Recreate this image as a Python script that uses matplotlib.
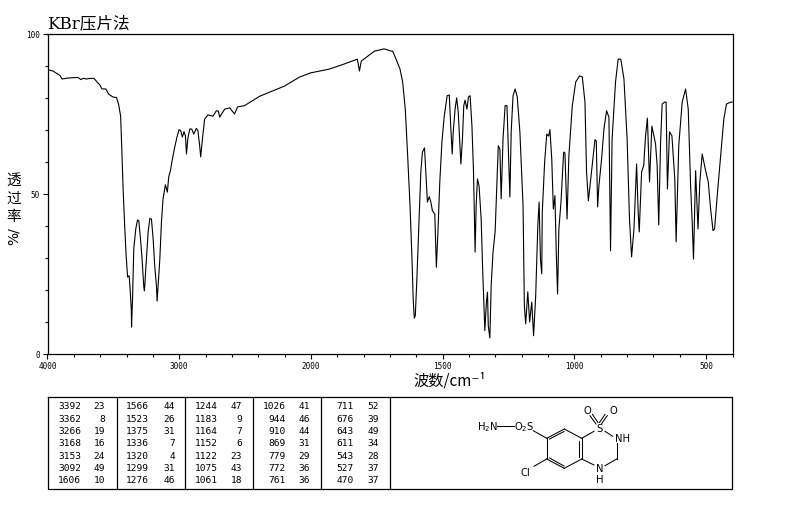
import numpy as np
import matplotlib
matplotlib.use("Agg")
import matplotlib.pyplot as plt

# --- spectrum ---
wavenumber = [
    3998, 3981, 3958, 3936, 3905, 3890, 3845, 3769, 3746, 3731, 3701, 3678, 3648, 3602, 3587, 3557,
    3536, 3504, 3476, 3461, 3445, 3436, 3426, 3413, 3403, 3392, 3380, 3373, 3364, 3362, 3355, 3345,
    3330, 3317, 3307, 3294, 3282, 3269, 3264, 3254, 3236, 3223, 3211, 3198, 3186, 3173, 3168, 3158,
    3148, 3135, 3123, 3105, 3097, 3090, 3080, 3067, 3052, 3034, 3017, 3001, 2989, 2976, 2964, 2953,
    2945, 2935, 2920, 2905, 2890, 2870, 2858, 2845, 2837, 2824, 2807, 2782, 2744, 2718, 2703, 2693,
    2655, 2617, 2580, 2557, 2504, 2390, 2314, 2201, 2087, 2004, 1930, 1873, 1824, 1816, 1809, 1759,
    1722, 1695, 1690, 1677, 1662, 1652, 1642, 1633, 1624, 1617, 1612, 1608, 1604, 1598, 1592, 1583,
    1577, 1569, 1564, 1558, 1551, 1545, 1539, 1530, 1524, 1518, 1511, 1503, 1494, 1483, 1475, 1469,
    1464, 1460, 1453, 1447, 1441, 1431, 1425, 1420, 1415, 1408, 1402, 1396, 1389, 1383, 1377, 1373,
    1368, 1362, 1354, 1348, 1340, 1334, 1330, 1327, 1321, 1316, 1309, 1301, 1296, 1289, 1283, 1278,
    1271, 1263, 1256, 1245, 1240, 1233, 1225, 1217, 1207, 1195, 1190, 1185, 1177, 1170, 1162, 1155,
    1147, 1139, 1134, 1129, 1124, 1122, 1113, 1105, 1098, 1093, 1086, 1080, 1074, 1069, 1064, 1059,
    1051, 1041, 1036, 1028, 1021, 1008, 995, 980, 970, 960, 954, 947, 938, 930, 922, 917,
    912, 907, 897, 888, 878, 869, 863, 857, 844, 834, 824, 812, 800, 791, 783, 774,
    764, 758, 754, 745, 737, 730, 723, 715, 706, 692, 686, 680, 673, 667, 657, 652,
    647, 639, 630, 619, 614, 604, 591, 578, 568, 559, 553, 548, 540, 531, 524, 515,
    502, 492, 483, 474, 468, 458, 445, 433, 423, 406, 400,
]
transmittance = [
    88.9, 88.5, 88.3, 87.7, 86.9, 85.8, 86.1, 86.3, 85.6, 86.0, 85.8, 86.0, 86.0, 83.9, 82.7, 82.7,
    81.1, 80.2, 80.0, 78.0, 74.3, 64.0, 51.5, 39.0, 30.7, 24.0, 24.4, 20.3, 14.0, 8.4, 16.6, 32.8,
    39.0, 41.8, 41.6, 35.9, 29.6, 20.9, 19.7, 26.5, 38.1, 42.3, 42.1, 35.9, 27.5, 21.3, 16.5, 22.9,
    29.1, 41.2, 48.4, 52.8, 51.5, 50.5, 55.2, 57.2, 60.8, 64.6, 67.7, 70.0, 69.7, 67.7, 69.4, 68.1,
    62.4, 67.1, 70.2, 70.2, 68.6, 70.4, 69.7, 65.0, 61.5, 67.1, 73.3, 74.6, 74.2, 75.9, 75.8, 73.9,
    76.4, 76.8, 74.9, 77.1, 77.5, 80.4, 81.7, 83.6, 86.4, 87.7, 88.9, 90.5, 92.0, 88.3, 91.4, 94.5,
    95.2, 94.5, 94.5, 92.0, 88.9, 84.9, 76.4, 61.9, 46.3, 30.7, 17.2, 11.2, 11.9, 23.4, 36.9, 56.8,
    63.0, 64.3, 56.8, 47.4, 49.1, 47.4, 44.7, 43.7, 27.1, 38.1, 53.7, 66.1, 74.3, 80.6, 80.8, 70.2,
    62.4, 69.3, 76.4, 79.9, 75.5, 59.3, 67.1, 77.5, 79.2, 76.4, 80.2, 80.6, 71.2, 56.8, 31.8, 46.3,
    54.6, 52.5, 42.1, 25.6, 7.3, 16.2, 19.3, 8.8, 5.0, 21.3, 31.8, 38.1, 49.4, 65.0, 64.0, 48.4,
    67.1, 77.5, 77.5, 49.0, 69.3, 80.6, 82.7, 80.2, 69.3, 46.3, 15.1, 9.4, 19.4, 10.0, 16.2, 5.7,
    18.2, 40.0, 47.4, 29.6, 25.0, 44.3, 59.9, 68.6, 68.0, 70.0, 60.8, 45.2, 49.4, 31.8, 18.7, 39.0,
    47.4, 63.0, 62.7, 42.1, 61.9, 77.5, 84.9, 86.8, 86.4, 78.6, 56.8, 47.8, 54.6, 60.8, 66.9, 66.5,
    45.9, 52.5, 60.8, 70.2, 75.9, 73.9, 32.2, 67.1, 84.9, 92.0, 92.0, 85.8, 67.1, 42.1, 30.3, 39.0,
    59.3, 44.3, 38.1, 56.8, 58.8, 68.1, 73.6, 53.7, 71.1, 65.5, 58.8, 40.3, 66.1, 78.0, 78.6, 78.6,
    51.5, 69.3, 68.1, 54.6, 35.0, 65.0, 78.6, 82.7, 76.4, 52.5, 41.2, 29.6, 57.2, 39.0, 53.7, 62.4,
    57.2, 53.7, 45.2, 38.5, 39.0, 49.4, 61.9, 73.3, 78.0, 78.6, 78.6,
]

# --- peak table, one list per block ---
peak_wn = [
    [3392, 3362, 3266, 3168, 3153, 3092, 1606],
    [1566, 1523, 1375, 1336, 1320, 1299, 1276],
    [1244, 1183, 1164, 1152, 1122, 1075, 1061],
    [1026, 944, 910, 869, 779, 772, 761],
    [711, 676, 643, 611, 543, 527, 470],
]
peak_t = [
    [23, 8, 19, 16, 24, 49, 10],
    [44, 26, 31, 7, 4, 31, 46],
    [47, 9, 7, 6, 23, 43, 18],
    [41, 46, 44, 31, 29, 36, 36],
    [52, 39, 49, 34, 28, 37, 37],
]

major_wn = [4000, 3000, 2000, 1500, 1000, 500]
minor_wn = list(range(3800, 2000, -200)) + list(range(1900, 300, -100))
major_t = [0, 50, 100]
minor_t = [10, 20, 30, 40, 60, 70, 80, 90]

MONO = "DejaVu Sans Mono"
CJK = ["Noto Sans CJK SC", "DejaVu Sans"]


# axis runs at half scale above 2000 cm-1
def wn_to_pos(w):
    w = np.asarray(w, dtype=float)
    return np.where(w > 2000, 2000 + (w - 2000) / 2, w)


def pos_to_wn(p):
    p = np.asarray(p, dtype=float)
    return np.where(p > 2000, 2000 + (p - 2000) * 2, p)


W, H = 794, 510
fig = plt.figure(figsize=(W / 100, H / 100), dpi=100)
ax = fig.add_axes([47.5 / W, (H - 355) / H, 685 / W, 320.5 / H])

ax.plot(wavenumber, transmittance, color="black", linewidth=0.8)

ax.set_xscale("function", functions=(wn_to_pos, pos_to_wn))
ax.set_xlim(4000, 400)
ax.set_ylim(0, 100)

ax.set_xticks(major_wn)
ax.set_xticklabels([str(v) for v in major_wn], family=MONO, fontsize=5.5)
ax.set_xticks(minor_wn, minor=True)
ax.set_yticks(major_t)
ax.set_yticklabels([str(v) for v in major_t], family=MONO, fontsize=5.5)
ax.set_yticks(minor_t, minor=True)
ax.tick_params(which="major", length=3.8, width=0.8, pad=1.5)
ax.tick_params(which="minor", length=2, width=0.8)
for s in ax.spines.values():
    s.set_linewidth(0.9)

# --- everything else is laid out in image pixels ---
ov = fig.add_axes([0, 0, 1, 1], facecolor="none")
ov.set_xlim(0, W)
ov.set_ylim(H, 0)
ov.axis("off")

ov.text(47, 24, "KBr压片法", family=["DejaVu Serif", "Noto Sans CJK SC"], fontsize=12,
        ha="left", va="center")

for ch, yy in zip("透过率", [180.5, 199, 217]):
    ov.text(14, yy, ch, family=CJK, fontsize=10.5, ha="center", va="center")
ov.text(14, 236, "%/", family="DejaVu Sans", fontsize=10, rotation=90, ha="center", va="center")
ov.text(450, 381, "波数/cm⁻¹", family=CJK, fontsize=11, ha="center", va="center")

# table frame
ov.plot([47.5, 732, 732, 47.5, 47.5], [398, 398, 490, 490, 398], color="black", lw=0.9)
for xx in [116.5, 184.5, 253, 321, 390]:
    ov.plot([xx, xx], [398, 490], color="black", lw=0.9)

row_y = [407, 419.5, 432, 444, 456.5, 468.5, 481]
wn_right = [81, 148.5, 217.5, 285.5, 353.5]
t_right = [105, 175, 242, 310, 379]
for i in range(5):
    for j in range(7):
        ov.text(wn_right[i], row_y[j], str(peak_wn[i][j]), family=MONO, fontsize=6.8, ha="right", va="center")
        ov.text(t_right[i], row_y[j], str(peak_t[i][j]), family=MONO, fontsize=6.8, ha="right", va="center")

# structure drawing
bonds = [
    ((496.7, 426.7), (514, 426.7)),
    ((533.3, 431.7), (546.7, 439.3)),
    ((546.7, 439.3), (564.3, 430)), ((564.3, 430), (581.7, 439.3)),
    ((581.7, 439.3), (581.7, 460)), ((581.7, 460), (564.3, 469.3)),
    ((564.3, 469.3), (546.7, 460)), ((546.7, 460), (546.7, 439.3)),
    ((549.5, 440), (564, 432.5)), ((579, 441.5), (579, 458)), ((549.5, 459), (564, 467)),
    ((581.7, 439.3), (594, 432.3)), ((605, 432.3), (612.7, 437.3)),
    ((616.7, 444), (616.7, 460)), ((616.7, 460), (605, 466.7)),
    ((594, 466), (581.7, 460)), ((534, 467.3), (546.7, 460)),
    ((590, 416.7), (596, 425)), ((592.5, 415.5), (598, 423.5)),
    ((607.3, 416.7), (601.7, 424.5)), ((605, 415.5), (599.5, 423.5)),
]
for a, b in bonds:
    ov.plot([a[0], b[0]], [a[1], b[1]], color="black", lw=0.75)

atoms = [
    (487, 427, "H$_2$N"), (524, 427, "O$_2$S"), (525, 473.5, "Cl"), (599.7, 429.5, "S"),
    (622.5, 439.5, "NH"), (599.7, 469.5, "N"), (599.7, 480, "H"), (587.7, 410.7, "O"), (613, 410.7, "O"),
]
for xx, yy, s in atoms:
    ov.text(xx, yy, s, family="DejaVu Sans", fontsize=7.2, ha="center", va="center")

fig.savefig("out.png", dpi=100)
